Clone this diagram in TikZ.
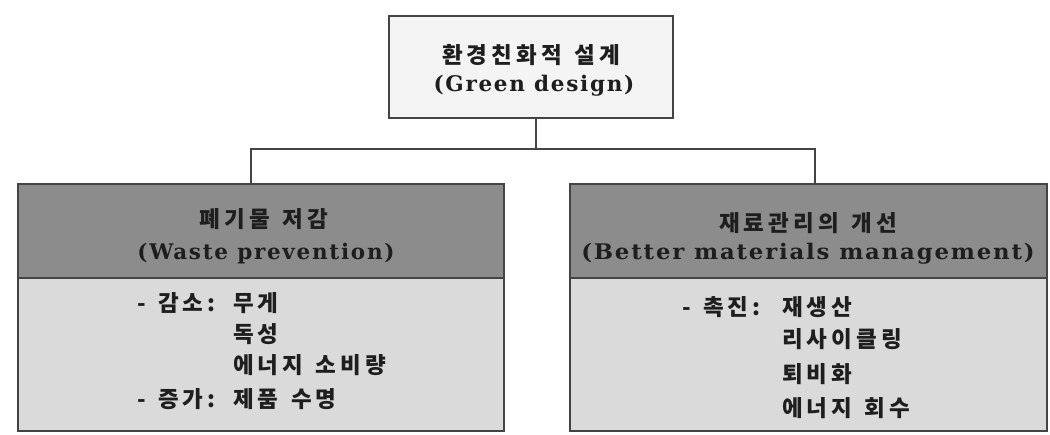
\documentclass[tikz,border=0pt]{standalone}
\usepackage{fontspec}
\newfontfamily\kr[LetterSpace=18]{Noto Sans CJK KR}
\newfontfamily\lat[LetterSpace=8]{DejaVu Serif}
\newcommand{\ksp}{\kern0.55em}
\definecolor{linec}{HTML}{444444}
\definecolor{headc}{HTML}{8C8C8C}
\definecolor{bodyc}{HTML}{DADADA}
\definecolor{topc}{HTML}{F4F4F4}
\definecolor{txt}{HTML}{1E1E1E}
\tikzset{
  box/.style={draw=linec, line width=1.6pt, rectangle, anchor=north west, inner sep=0pt},
  conn/.style={draw=linec, line width=1.6pt},
  krt/.style={font=\kr\bfseries\fontsize{22.5}{25}\selectfont, text=txt, inner sep=0pt},
  latt/.style={font=\lat\bfseries\fontsize{21.5}{24}\selectfont, text=txt, inner sep=0pt},
  item/.style={krt, anchor=west},
}
\begin{document}
\begin{tikzpicture}[x=1pt,y=-1pt]
\fill[white] (0,0) rectangle (1050,434);
\useasboundingbox (0,0) rectangle (1050,434);
% boxes
\node[box, fill=topc, minimum width=284pt, minimum height=102pt] (top) at (388,15) {};
\node[box, fill=bodyc, minimum width=486pt, minimum height=247pt] (lb) at (17,183) {};
\node[box, fill=headc, minimum width=486pt, minimum height=94pt] (lh) at (17,183) {};
\node[box, fill=bodyc, minimum width=477pt, minimum height=247pt] (rb) at (569,183) {};
\node[box, fill=headc, minimum width=477pt, minimum height=94pt] (rh) at (569,183) {};
% connectors
\coordinate (j) at (536,149);
\coordinate (lj) at (251,149);
\coordinate (rj) at (815,149);
\draw[conn] (top.south -| j) -- (j);
\draw[conn] (lh.north -| lj) -- (lj) -- (rj) -- (rh.north -| rj);
% top text
\node[krt] (t1) at (531,55) {환경친화적\ksp 설계};
\node[latt] (t2) at (534,86) {(Green design)};
% left header
\node[krt] (l1) at (264,219) {폐기물\ksp 저감};
\node[latt] (l2) at (266,254) {(Waste prevention)};
% right header
\node[krt] (r1) at (808,223) {재료관리의\ksp 개선};
\node[latt] (r2) at (808,254) {\scalebox{1.06}[1]{(Better materials management)}};
% left body
\node[item] (la) at (137,303) {-\ksp 감소:};
\node[item] (la1) at (233,303) {무게};
\node[item] (la2) at (233,334) {독성};
\node[item] (la3) at (233,365) {에너지\ksp 소비량};
\node[item] (lc) at (137,399) {-\ksp 증가:};
\node[item] (lc1) at (233,399) {제품\ksp 수명};
% right body
\node[item] (ra) at (682,307) {-\ksp 촉진:};
\node[item] (ra1) at (782,307) {재생산};
\node[item] (ra2) at (782,339) {리사이클링};
\node[item] (ra3) at (782,374) {퇴비화};
\node[item] (ra4) at (782,408) {에너지\ksp 회수};
\end{tikzpicture}
\end{document}
